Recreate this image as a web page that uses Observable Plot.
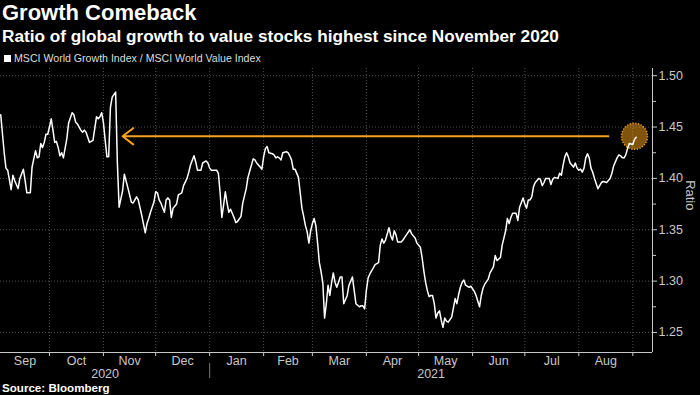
<!DOCTYPE html>
<html>
<head>
<meta charset="utf-8">
<script src="https://cdn.jsdelivr.net/npm/d3@7"></script>
<script src="https://cdn.jsdelivr.net/npm/@observablehq/plot@0.6"></script>
<style>
  html, body { margin: 0; padding: 0; background: #000; }
  #wrap { position: relative; width: 700px; height: 395px; background: #000; overflow: hidden; }
  #title { position: absolute; left: 2px; top: 1px; font: 700 22px "Liberation Sans", Arial, sans-serif; line-height: 24px; color: #fff; white-space: nowrap; }
  #subtitle { position: absolute; left: 2px; top: 26px; font: 700 17.2px "Liberation Sans", Arial, sans-serif; line-height: 20px; color: #fff; white-space: nowrap; }
  #legend { position: absolute; left: 4px; top: 51px; font: 10.6px "Liberation Sans", Arial, sans-serif; line-height: 14px; color: #ddd; white-space: nowrap; }
  #legend .sw { display: inline-block; width: 7px; height: 7px; background: #fff; margin-right: 3px; vertical-align: 0px; }
  #chart { position: absolute; left: 0; top: 65px; }
  #source { position: absolute; left: 2px; top: 381px; font: 700 11.6px "Liberation Sans", Arial, sans-serif; line-height: 14px; color: #fff; white-space: nowrap; }
</style>
</head>
<body>
<div id="wrap">
  <div id="title">Growth Comeback</div>
  <div id="subtitle">Ratio of global growth to value stocks highest since November 2020</div>
  <div id="legend"><span class="sw"></span>MSCI World Growth Index / MSCI World Value Index</div>
  <div id="chart"></div>
  <div id="source">Source: Bloomberg</div>
</div>
<script>
// ---- data ----
const dates = [
  "2020-09-03","2020-09-05","2020-09-06","2020-09-07","2020-09-09","2020-09-10","2020-09-11","2020-09-13","2020-09-14","2020-09-16",
  "2020-09-17","2020-09-18","2020-09-20","2020-09-21","2020-09-23","2020-09-24","2020-09-25","2020-09-26","2020-09-27","2020-09-28",
  "2020-09-29","2020-09-30",
  "2020-10-01","2020-10-02","2020-10-03","2020-10-04","2020-10-05","2020-10-06","2020-10-07","2020-10-08","2020-10-09","2020-10-11",
  "2020-10-12","2020-10-14","2020-10-15","2020-10-16","2020-10-17","2020-10-19","2020-10-20","2020-10-21","2020-10-22","2020-10-24",
  "2020-10-25","2020-10-26","2020-10-28","2020-10-29","2020-10-30","2020-10-31",
  "2020-11-01","2020-11-02","2020-11-03","2020-11-04","2020-11-05","2020-11-06","2020-11-08","2020-11-09","2020-11-10","2020-11-12",
  "2020-11-13","2020-11-15","2020-11-17","2020-11-18","2020-11-20","2020-11-21","2020-11-23","2020-11-25","2020-11-26","2020-11-27",
  "2020-11-28","2020-11-30",
  "2020-12-01","2020-12-02","2020-12-03","2020-12-04","2020-12-06","2020-12-07","2020-12-08","2020-12-09","2020-12-10","2020-12-11",
  "2020-12-13","2020-12-14","2020-12-16","2020-12-17","2020-12-19","2020-12-20","2020-12-21","2020-12-23","2020-12-24","2020-12-25",
  "2020-12-27","2020-12-28","2020-12-30","2020-12-31",
  "2021-01-01","2021-01-02","2021-01-05","2021-01-06","2021-01-07","2021-01-08","2021-01-09","2021-01-10","2021-01-11","2021-01-12",
  "2021-01-13","2021-01-15","2021-01-16","2021-01-17","2021-01-19","2021-01-20","2021-01-22","2021-01-23","2021-01-24","2021-01-26",
  "2021-01-27","2021-01-28","2021-01-30","2021-01-31",
  "2021-02-01","2021-02-02","2021-02-03","2021-02-04","2021-02-06","2021-02-07","2021-02-08","2021-02-09","2021-02-10","2021-02-11",
  "2021-02-12","2021-02-14","2021-02-15","2021-02-16","2021-02-17","2021-02-18","2021-02-19","2021-02-21","2021-02-22","2021-02-23",
  "2021-02-24","2021-02-25","2021-02-26","2021-02-27","2021-02-28",
  "2021-03-01","2021-03-02","2021-03-03","2021-03-04","2021-03-05","2021-03-06","2021-03-07","2021-03-08","2021-03-09","2021-03-10",
  "2021-03-11","2021-03-12","2021-03-13","2021-03-14","2021-03-15","2021-03-16","2021-03-17","2021-03-18","2021-03-19","2021-03-21",
  "2021-03-22","2021-03-24","2021-03-25","2021-03-26","2021-03-28","2021-03-29","2021-03-30","2021-03-31",
  "2021-04-01","2021-04-02","2021-04-03","2021-04-05","2021-04-06","2021-04-08","2021-04-09","2021-04-10","2021-04-11","2021-04-12",
  "2021-04-14","2021-04-15","2021-04-16","2021-04-17","2021-04-18","2021-04-19","2021-04-21","2021-04-22","2021-04-24","2021-04-26",
  "2021-04-27","2021-04-29","2021-04-30",
  "2021-05-02","2021-05-03","2021-05-04","2021-05-05","2021-05-06","2021-05-07","2021-05-08","2021-05-09","2021-05-10","2021-05-11",
  "2021-05-12","2021-05-13","2021-05-14","2021-05-15","2021-05-16","2021-05-17","2021-05-18","2021-05-20","2021-05-21","2021-05-22",
  "2021-05-23","2021-05-24","2021-05-25","2021-05-26","2021-05-27","2021-05-28","2021-05-30","2021-05-31",
  "2021-06-02","2021-06-03","2021-06-05","2021-06-06","2021-06-07","2021-06-08","2021-06-10","2021-06-11","2021-06-12","2021-06-13",
  "2021-06-14","2021-06-15","2021-06-17","2021-06-18","2021-06-20","2021-06-21","2021-06-22","2021-06-23","2021-06-24","2021-06-26",
  "2021-06-27","2021-06-28","2021-06-30",
  "2021-07-01","2021-07-02","2021-07-03","2021-07-04","2021-07-05","2021-07-06","2021-07-07","2021-07-09","2021-07-10","2021-07-11",
  "2021-07-12","2021-07-13","2021-07-15","2021-07-16","2021-07-17","2021-07-18","2021-07-20","2021-07-21","2021-07-22","2021-07-23",
  "2021-07-24","2021-07-25","2021-07-26","2021-07-27","2021-07-29","2021-07-30","2021-07-31",
  "2021-08-01","2021-08-02","2021-08-03","2021-08-04","2021-08-05","2021-08-06","2021-08-07","2021-08-08","2021-08-09","2021-08-10",
  "2021-08-12","2021-08-13","2021-08-14","2021-08-15","2021-08-17","2021-08-19","2021-08-20","2021-08-21","2021-08-23","2021-08-24",
  "2021-08-25","2021-08-26","2021-08-27","2021-08-28","2021-08-29","2021-08-30",
  "2021-09-01","2021-09-02","2021-09-03"
];
const ratio = [
  1.462,1.425,1.410,1.408,1.389,1.403,1.398,1.390,1.400,1.409,
  1.398,1.386,1.386,1.411,1.427,1.420,1.421,1.434,1.430,1.435,
  1.443,1.443,
  1.450,1.458,1.447,1.435,1.436,1.430,1.422,1.425,1.420,1.439,
  1.454,1.464,1.462,1.455,1.453,1.447,1.445,1.447,1.445,1.435,
  1.436,1.437,1.460,1.458,1.460,1.464,
  1.454,1.437,1.421,1.421,1.469,1.479,1.484,1.415,1.372,1.388,
  1.404,1.391,1.377,1.376,1.382,1.379,1.364,1.347,1.356,1.361,
  1.367,1.377,
  1.387,1.386,1.379,1.376,1.367,1.379,1.381,1.379,1.362,1.371,
  1.375,1.384,1.386,1.393,1.400,1.406,1.413,1.422,1.416,1.408,
  1.408,1.415,1.417,1.415,
  1.410,1.408,1.408,1.405,1.386,1.362,1.374,1.387,1.376,1.367,
  1.370,1.362,1.357,1.358,1.363,1.376,1.390,1.401,1.407,1.419,
  1.418,1.415,1.411,1.409,
  1.421,1.429,1.431,1.425,1.424,1.423,1.420,1.421,1.420,1.418,
  1.425,1.426,1.425,1.422,1.418,1.409,1.409,1.401,1.386,1.371,
  1.363,1.354,1.348,1.337,1.349,
  1.356,1.361,1.354,1.337,1.318,1.309,1.298,1.264,1.278,1.296,
  1.286,1.298,1.308,1.299,1.294,1.299,1.304,1.304,1.278,1.286,
  1.296,1.304,1.291,1.278,1.275,1.276,1.276,1.273,
  1.291,1.303,1.307,1.313,1.316,1.318,1.335,1.341,1.337,1.340,
  1.352,1.344,1.340,1.349,1.345,1.338,1.338,1.340,1.345,1.350,
  1.346,1.342,1.337,
  1.333,1.323,1.310,1.299,1.291,1.285,1.286,1.286,1.278,1.264,
  1.269,1.271,1.262,1.255,1.264,1.261,1.260,1.265,1.274,1.283,
  1.278,1.287,1.294,1.299,1.301,1.296,1.294,1.295,
  1.290,1.286,1.275,1.286,1.293,1.297,1.302,1.308,1.311,1.314,
  1.325,1.320,1.323,1.335,1.349,1.361,1.356,1.362,1.366,1.366,
  1.359,1.372,1.381,
  1.375,1.371,1.379,1.379,1.382,1.392,1.396,1.400,1.399,1.393,
  1.396,1.400,1.400,1.394,1.399,1.401,1.400,1.405,1.403,1.413,
  1.421,1.425,1.421,1.415,1.411,1.415,1.410,
  1.408,1.409,1.406,1.410,1.420,1.424,1.420,1.410,1.406,1.400,
  1.390,1.393,1.396,1.397,1.396,1.400,1.405,1.412,1.420,1.423,
  1.422,1.420,1.420,1.423,1.429,1.434,
  1.433,1.438,1.440
];
const monthStarts = ["2020-09-01","2020-10-01","2020-11-01","2020-12-01","2021-01-01","2021-02-01","2021-03-01",
                     "2021-04-01","2021-05-01","2021-06-01","2021-07-01","2021-08-01","2021-09-01"];
const monthNames = ["Sep","Oct","Nov","Dec","Jan","Feb","Mar","Apr","May","Jun","Jul","Aug"];
const yearLabels = ["2020","2021"];
const yearStarts = ["2020-01-01","2021-01-01","2022-01-01"];
const yTicks = [1.25, 1.30, 1.35, 1.40, 1.45, 1.50];
const yMinorTicks = [1.275, 1.325, 1.375, 1.425, 1.475];
const xDomain = ["2020-09-02T21:00:00Z", "2021-09-12T08:00:00Z"];
const yDomain = [1.2305, 1.507];
// annotation: arrow back to the November 2020 level, highlighted latest value
const arrowFrom = ["2021-08-18", 1.441];
const arrowTo = ["2020-11-12", 1.441];
const highlight = ["2021-09-02", 1.441];
const yAxisLabel = "Ratio";

// ---- derived tables ----
const parse = s => new Date(s);
const X0 = parse(xDomain[0]), X1 = parse(xDomain[1]);
const clampD = d => new Date(Math.min(Math.max(+d, +X0), +X1));
const mid = (a, b) => new Date((+clampD(a) + +clampD(b)) / 2);
const data = dates.map((d, i) => ({date: parse(d), ratio: ratio[i]}));
const monthLab = monthNames.map((m, i) => ({label: m, x: mid(parse(monthStarts[i]), parse(monthStarts[i + 1]))}));
const boundaries = monthStarts.map(parse).filter(d => d > X0 && d < X1);
const yearLab = yearLabels.map((y, i) => ({label: y, x: mid(parse(yearStarts[i]), parse(yearStarts[i + 1]))}));
const yearSep = yearStarts.map(parse).filter(d => d > X0 && d < X1);

const ORANGE = "#f7a21b";
const AXIS = "#c8c8c8";
const GRID = "#505050";

const chart = Plot.plot({
  width: 700,
  height: 315,
  marginTop: 3,
  marginRight: 48,
  marginBottom: 28,
  marginLeft: 0,
  x: {type: "utc", domain: [X0, X1]},
  y: {domain: yDomain},
  style: {background: "#000", color: AXIS, fontFamily: "'Liberation Sans', Arial, sans-serif", fontSize: "12.5px", overflow: "visible"},
  marks: [
    Plot.ruleY(yTicks, {stroke: GRID, strokeDasharray: "1,2"}),
    Plot.ruleX(boundaries, {stroke: GRID, strokeDasharray: "1,2"}),
    Plot.arrow([0], {
      x1: () => parse(arrowFrom[0]), y1: () => arrowFrom[1],
      x2: () => parse(arrowTo[0]), y2: () => arrowTo[1],
      stroke: ORANGE, strokeWidth: 2, headLength: 10, headAngle: 75
    }),
    Plot.dot([0], {
      x: () => parse(highlight[0]), y: () => highlight[1], r: 13,
      fill: ORANGE, fillOpacity: 0.52, stroke: ORANGE, strokeWidth: 1.5, strokeDasharray: "1.2,1.6"
    }),
    Plot.line(data, {x: "date", y: "ratio", stroke: "#fff", strokeWidth: 1.5}),
    Plot.ruleY([yDomain[0]], {stroke: AXIS, strokeWidth: 1}),
    Plot.ruleX([X1], {stroke: AXIS, strokeWidth: 1}),
    Plot.axisY({anchor: "right", ticks: yTicks, tickSize: 4, tickPadding: 2, tickFormat: d3.format(".2f"), label: null, fontSize: 12.5}),
    Plot.axisY({anchor: "right", ticks: yMinorTicks, tickSize: 3, tickFormat: () => "", label: null}),
    Plot.axisX({anchor: "bottom", ticks: boundaries, tickSize: 4, tickFormat: () => "", label: null}),
    Plot.text(monthLab, {x: "x", text: "label", frameAnchor: "bottom", lineAnchor: "middle", dy: 8, fill: AXIS, fontSize: 12.5}),
    Plot.text(yearLab, {x: "x", text: "label", frameAnchor: "bottom", lineAnchor: "middle", dy: 21, fill: AXIS, fontSize: 12.5}),
    Plot.ruleX(yearSep, {stroke: "#777", insetTop: 295, insetBottom: -26}),
    Plot.text([yAxisLabel], {frameAnchor: "right", dx: 38, rotate: 90, fill: AXIS, fontSize: 13})
  ]
});
document.getElementById("chart").appendChild(chart);
</script>
</body>
</html>
